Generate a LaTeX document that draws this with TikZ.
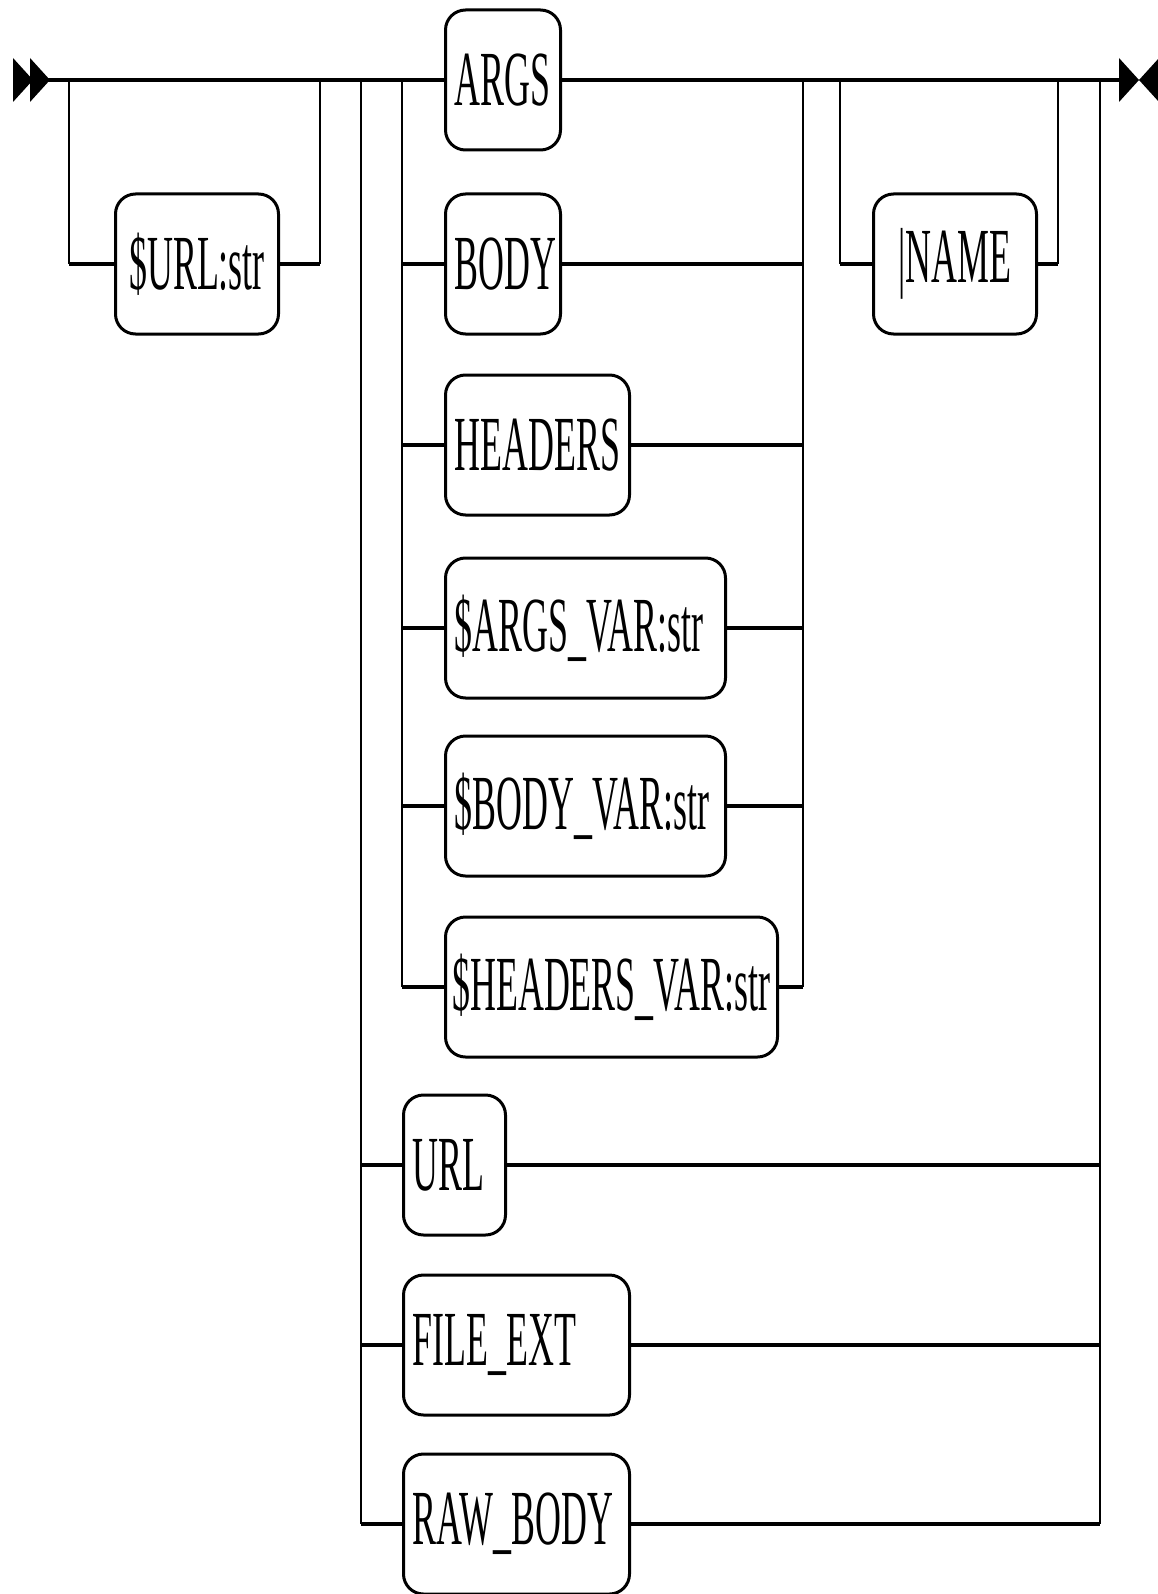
\documentclass[tikz,border=0pt]{standalone}
\usepackage{fontspec}
\newfontfamily\cond[FakeStretch=0.46]{Liberation Serif}
\begin{document}
\begin{tikzpicture}[x=1pt,y=-1pt,
  rbox/.style={draw, line width=3pt, rounded corners=20pt, inner sep=0pt,
    minimum height=140pt, anchor=west, font=\cond\fontsize{78}{80}\selectfont},
  lbox/.style={rbox, inner xsep=9pt, text width=#1, align=left},
  hl/.style={line width=4pt},
  vl/.style={line width=2.3pt}
]
\useasboundingbox (0,0) rectangle (1157,1594);
% start / end markers
\fill (13,58) -- (33,80) -- (13,102) -- cycle;
\fill (30,58) -- (50,80) -- (30,102) -- cycle;
\fill (1119,58) -- (1139,80) -- (1119,102) -- cycle;
\fill (1159,58) -- (1139,80) -- (1159,102) -- cycle;
\coordinate (s) at (48,80);
\coordinate (e) at (1121,80);
% rails
\coordinate (L1) at (69,80);
\coordinate (R1) at (320,80);
\coordinate (OL) at (361,80);
\coordinate (IL) at (402,80);
\coordinate (IR) at (803,80);
\coordinate (L2) at (840,80);
\coordinate (R2) at (1058,80);
\coordinate (OR) at (1100,80);
% boxes
\node[rbox, minimum width=163pt] (surl) at (114,264) {\$URL:str};
\node[lbox=97pt] (args) at (444,80) {ARGS};
\node[lbox=97pt] (body) at (444,264) {BODY};
\node[lbox=166pt] (head) at (444,445) {HEADERS};
\node[lbox=262pt] (av) at (444,628) {\$ARGS\_VAR:str};
\node[lbox=262pt] (bv) at (444,806) {\$BODY\_VAR:str};
\node[rbox, minimum width=332pt] (hv) at (444,987) {\$HEADERS\_VAR:str};
\node[rbox, minimum width=163pt] (name) at (872,264) {|NAME};
\node[lbox=84pt] (url) at (402,1165) {URL};
\node[lbox=208pt] (fext) at (402,1345) {FILE\_EXT};
\node[lbox=208pt] (raw) at (402,1524) {RAW\_BODY};
% main line
\draw[hl] (s) -- (args.west);
\draw[hl] (args.east) -- (e);
% $URL loop
\draw[vl] (L1) -- (L1 |- surl.west);
\draw[hl] (L1 |- surl.west) -- (surl.west);
\draw[hl] (surl.east) -- (R1 |- surl.east);
\draw[vl] (R1 |- surl.east) -- (R1);
% NAME loop
\draw[vl] (L2) -- (L2 |- name.west);
\draw[hl] (L2 |- name.west) -- (name.west);
\draw[hl] (name.east) -- (R2 |- name.east);
\draw[vl] (R2 |- name.east) -- (R2);
% inner choice
\draw[vl] (IL) -- (IL |- hv.west);
\draw[vl] (IR) -- (IR |- hv.east);
\foreach \n in {body,head,av,bv,hv}{
  \draw[hl] (IL |- \n.west) -- (\n.west);
  \draw[hl] (\n.east) -- (IR |- \n.east);
}
% outer choice
\draw[vl] (OL) -- (OL |- raw.west);
\draw[vl] (OR) -- (OR |- raw.east);
\foreach \n in {url,fext,raw}{
  \draw[hl] (OL |- \n.west) -- (\n.west);
  \draw[hl] (\n.east) -- (OR |- \n.east);
}
\end{tikzpicture}
\end{document}
